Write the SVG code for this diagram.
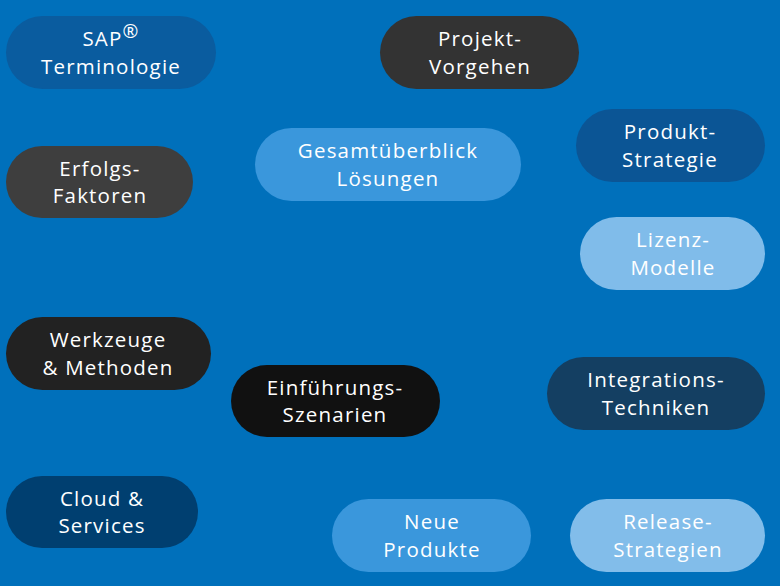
<svg xmlns="http://www.w3.org/2000/svg" width="780" height="586" viewBox="0 0 780 586">
<style>
.t{font-family:"Open Sans","Liberation Sans",sans-serif;font-size:20.5px;letter-spacing:1.2px;fill:#ffffff;text-anchor:middle}
</style>
<rect x="0" y="0" width="780" height="586" fill="#0070bb"/>
<g id="connectors"></g>
<g id="sap"><rect x="6" y="16" width="210" height="73" rx="36.5" fill="#0a5c9f"/><text class="t" x="111" y="46">SAP<tspan font-size="19" dy="-8">®</tspan></text><text class="t" x="111" y="74">Terminologie</text></g>
<g id="projekt"><rect x="380" y="16" width="199" height="73" rx="36.5" fill="#333333"/><text class="t" x="480" y="46">Projekt-</text><text class="t" x="480" y="74">Vorgehen</text></g>
<g id="gesamt"><rect x="255" y="128" width="266" height="73" rx="36.5" fill="#3a97dc"/><text class="t" x="388" y="158">Gesamtüberblick</text><text class="t" x="388" y="186">Lösungen</text></g>
<g id="produkt"><rect x="576" y="109" width="189" height="73" rx="36.5" fill="#0b5595"/><text class="t" x="670" y="139">Produkt-</text><text class="t" x="670" y="167">Strategie</text></g>
<g id="erfolg"><rect x="6" y="146" width="187" height="72" rx="36" fill="#3e3e3e"/><text class="t" x="100" y="176">Erfolgs-</text><text class="t" x="100" y="203">Faktoren</text></g>
<g id="lizenz"><rect x="580" y="217" width="185" height="73" rx="36.5" fill="#80bcea"/><text class="t" x="673" y="247">Lizenz-</text><text class="t" x="673" y="275">Modelle</text></g>
<g id="werkzeuge"><rect x="6" y="317" width="205" height="73" rx="36.5" fill="#222222"/><text class="t" x="108" y="347">Werkzeuge</text><text class="t" x="108" y="375">&amp; Methoden</text></g>
<g id="einfuehrung"><rect x="231" y="365" width="209" height="72" rx="36" fill="#111111"/><text class="t" x="335" y="395">Einführungs-</text><text class="t" x="335" y="422">Szenarien</text></g>
<g id="integration"><rect x="547" y="357" width="218" height="73" rx="36.5" fill="#143f62"/><text class="t" x="656" y="387">Integrations-</text><text class="t" x="656" y="415">Techniken</text></g>
<g id="cloud"><rect x="6" y="476" width="192" height="72" rx="36" fill="#003f70"/><text class="t" x="102" y="506">Cloud &amp;</text><text class="t" x="102" y="533">Services</text></g>
<g id="neue"><rect x="332" y="499" width="199" height="73" rx="36.5" fill="#3a97dc"/><text class="t" x="432" y="529">Neue</text><text class="t" x="432" y="557">Produkte</text></g>
<g id="release"><rect x="570" y="499" width="195" height="73" rx="36.5" fill="#82bdea"/><text class="t" x="668" y="529">Release-</text><text class="t" x="668" y="557">Strategien</text></g>
</svg>
